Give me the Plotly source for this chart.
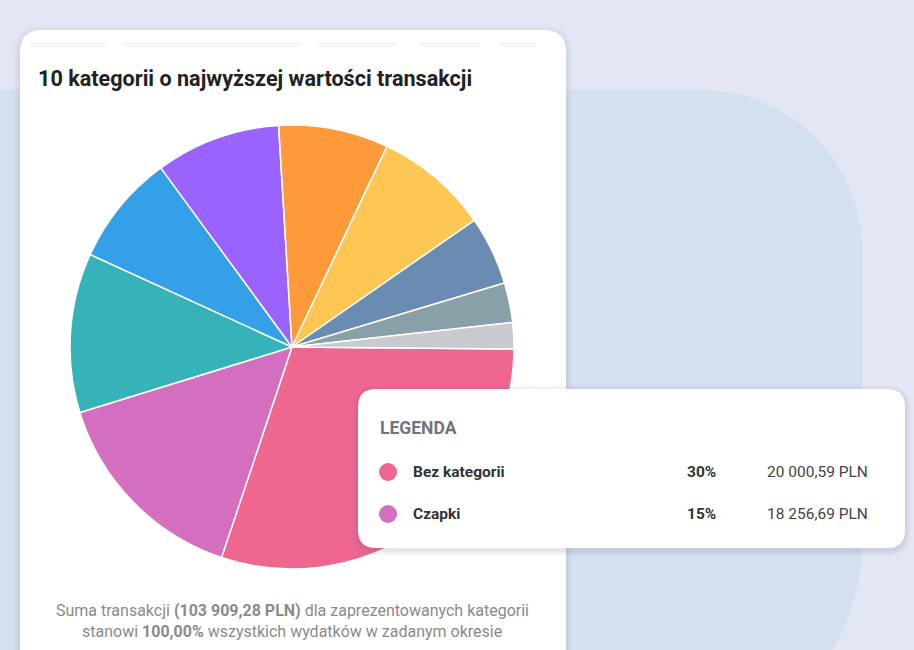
import plotly.graph_objects as go

W, H = 914, 650

# ---- data ----
categories = ["Bez kategorii", "Czapki", "Kategoria 3", "Kategoria 4", "Kategoria 5",
              "Kategoria 6", "Kategoria 7", "Kategoria 8", "Kategoria 9", "Kategoria 10"]
shares = [30.0, 15.1, 11.6, 8.1, 9.1, 8.0, 8.3, 5.0, 2.9, 1.9]
colors = ["#ef6690", "#d46fbf", "#36b3b9", "#34a0e8", "#9b63fe",
          "#fd9b3b", "#fec652", "#6a8cb2", "#8aa0a8", "#c8cacf"]

legend_names = ["Bez kategorii", "Czapki"]
legend_pct = ["30%", "15%"]
legend_amounts = ["20 000,59 PLN", "18 256,69 PLN"]
legend_colors = ["#ef6690", "#d46fbf"]

title_text = "10 kategorii o najwyższej wartości transakcji"
footer_1 = "Suma transakcji <b>(103 909,28 PLN)</b> dla zaprezentowanych kategorii"
footer_2 = "stanowi <b>100,00%</b> wszystkich wydatków w zadanym okresie"


def px(x):
    return x / W


def py(y):
    return 1 - y / H


def P(x, y):
    return f"{px(x)},{py(y)}"


def rr(x0, y0, x1, y1, r):
    """rounded rect path in paper coords from pixel coords"""
    pts = [
        f"M {P(x0 + r, y0)}",
        f"L {P(x1 - r, y0)}",
        f"Q {P(x1, y0)} {P(x1, y0 + r)}",
        f"L {P(x1, y1 - r)}",
        f"Q {P(x1, y1)} {P(x1 - r, y1)}",
        f"L {P(x0 + r, y1)}",
        f"Q {P(x0, y1)} {P(x0, y1 - r)}",
        f"L {P(x0, y0 + r)}",
        f"Q {P(x0, y0)} {P(x0 + r, y0)}",
        "Z",
    ]
    return " ".join(pts)


fig = go.Figure()

cx, cy, R = 292, 347, 222
fig.add_trace(go.Pie(
    labels=categories,
    values=shares,
    sort=False,
    direction="clockwise",
    rotation=90.5,
    marker=dict(colors=colors, line=dict(color="#ffffff", width=1.5)),
    textinfo="none",
    hoverinfo="label+percent",
    showlegend=False,
    domain=dict(x=[px(cx - R), px(cx + R)], y=[py(cy + R), py(cy - R)]),
))

shapes = []
# big light-blue region behind (square left, rounded right corners)
k = 0.552
rt, rb = 160, 220
xr, yt, yb = 862, 90, 760
blue_path = " ".join([
    f"M {P(-10, yt)}",
    f"L {P(xr - rt, yt)}",
    f"C {P(xr - rt + rt * k, yt)} {P(xr, yt + rt - rt * k)} {P(xr, yt + rt)}",
    f"L {P(xr, yb - rb)}",
    f"C {P(xr, yb - rb + rb * k)} {P(xr - rb + rb * k, yb)} {P(xr - rb, yb)}",
    f"L {P(-10, yb)}",
    "Z",
])
shapes.append(dict(type="path", path=blue_path, xref="paper", yref="paper",
                   fillcolor="#d4dff0", line=dict(width=0), layer="below"))
# main card shadow + card
for i, a in enumerate([0.03, 0.04, 0.05]):
    d = 6 - 2 * i
    shapes.append(dict(type="path", path=rr(20 - d, 30 - d + 2, 566 + d, 720, 22 + d), xref="paper", yref="paper",
                       fillcolor=f"rgba(90,100,140,{a})", line=dict(width=0), layer="below"))
shapes.append(dict(type="path", path=rr(20, 30, 566, 720, 22), xref="paper", yref="paper",
                   fillcolor="#ffffff", line=dict(width=0), layer="below"))
# faint blurred tab row
for (a, b) in [(30, 106), (124, 300), (318, 398), (418, 480), (498, 536)]:
    shapes.append(dict(type="path", path=rr(a, 42, b, 47, 2.5), xref="paper", yref="paper",
                       fillcolor="#f6f8f8", line=dict(width=0), layer="below"))
# legend card shadow + card
for i, a in enumerate([0.04, 0.05, 0.07]):
    d = 6 - 2 * i
    shapes.append(dict(type="path", path=rr(358 - d, 389 - d + 2, 905 + d, 548 + d + 2, 18 + d), xref="paper", yref="paper",
                       fillcolor=f"rgba(90,100,140,{a})", line=dict(width=0), layer="above"))
shapes.append(dict(type="path", path=rr(358, 389, 905, 548, 18), xref="paper", yref="paper",
                   fillcolor="#ffffff", line=dict(width=0), layer="above"))
# legend dots
row_y = [472, 514]
for yv, c in zip(row_y, legend_colors):
    shapes.append(dict(type="circle", xref="paper", yref="paper",
                       x0=px(379), x1=px(397), y0=py(yv + 9), y1=py(yv - 9),
                       fillcolor=c, line=dict(width=0), layer="above"))

ann = []
ann.append(dict(text=f"<b>{title_text}</b>", x=px(36), y=py(78), xref="paper", yref="paper",
                xanchor="left", yanchor="middle", showarrow=False,
                font=dict(family="Roboto", size=21.6, color="#222222")))
ann.append(dict(text="<b>LEGENDA</b>", x=px(378), y=py(428), xref="paper", yref="paper",
                xanchor="left", yanchor="middle", showarrow=False,
                font=dict(family="Roboto", size=17.5, color="#6f7580")))
for yv, n, p, a in zip(row_y, legend_names, legend_pct, legend_amounts):
    ann.append(dict(text=f"<b>{n}</b>", x=px(411), y=py(yv), xref="paper", yref="paper",
                    xanchor="left", yanchor="middle", showarrow=False,
                    font=dict(family="Roboto", size=15.5, color="#333333")))
    ann.append(dict(text=f"<b>{p}</b>", x=px(685), y=py(yv), xref="paper", yref="paper",
                    xanchor="left", yanchor="middle", showarrow=False,
                    font=dict(family="Roboto", size=15.5, color="#333333")))
    ann.append(dict(text=a, x=px(870), y=py(yv), xref="paper", yref="paper",
                    xanchor="right", yanchor="middle", showarrow=False,
                    font=dict(family="Roboto", size=15.5, color="#444444")))
for yv, t in [(610, footer_1), (631, footer_2)]:
    ann.append(dict(text=t, x=px(292), y=py(yv), xref="paper", yref="paper",
                    xanchor="center", yanchor="middle", showarrow=False,
                    font=dict(family="Roboto", size=16, color="#8a8a8a")))

fig.update_layout(
    width=W, height=H,
    margin=dict(l=0, r=0, t=0, b=0),
    paper_bgcolor="#e3e7f3",
    plot_bgcolor="rgba(0,0,0,0)",
    shapes=shapes,
    annotations=ann,
    showlegend=False,
)

fig.write_html("out.html", config={"displayModeBar": False},
               post_script="document.body.style.margin='0';document.body.style.overflow='hidden';")
